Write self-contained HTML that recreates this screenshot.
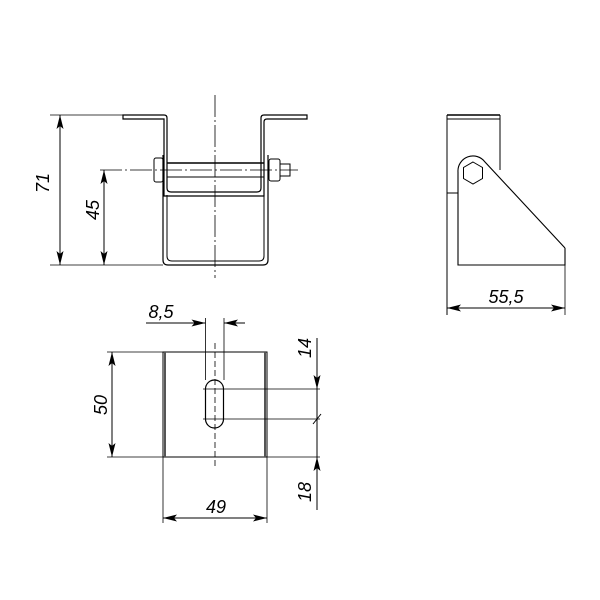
<!DOCTYPE html>
<html><head><style>body{margin:0;background:#fff}svg{display:block}</style></head><body>
<svg width="600" height="600" viewBox="0 0 600 600" xmlns="http://www.w3.org/2000/svg" font-family="Liberation Sans, sans-serif">
<defs>
<marker id="a" viewBox="0 0 14 7" refX="14" refY="3.5" markerWidth="14" markerHeight="7" orient="auto-start-reverse" markerUnits="userSpaceOnUse"><path d="M0,0 L14,3.5 L0,7 L3,3.5 Z" fill="#000"/></marker>
</defs>
<g stroke="#000" fill="none" stroke-width="1">
<!-- front view -->
<path d="M123,115 H164 Q167,115 167,118 V188 Q167,192 171,192 H257 Q261,192 261,188 V118 Q261,115 264,115 H307 V119 H267 Q264,119 264,122 V196 H164 V119 H123 Z" stroke-width="1.2"/>
<path d="M163,155 V260 Q163,265 168,265 H263 Q268,265 268,260 V155" stroke-width="1.2"/>
<path d="M167,195 V256 Q167,261 172,261 H259 Q264,261 264,256 V195"/>
<line x1="167" y1="163" x2="264" y2="163" stroke-width="1.5"/>
<line x1="167" y1="177" x2="264" y2="177"/>
<rect x="154" y="158" width="9" height="24" rx="2"/>
<rect x="269" y="159" width="11" height="22" rx="2"/>
<rect x="280" y="164" width="10" height="12"/>
<line x1="215" y1="95" x2="215" y2="278" stroke-width="0.8" stroke-dasharray="22,3,2,3"/>
<line x1="100" y1="170" x2="298" y2="170" stroke-width="0.8" stroke-dasharray="22,3,2,3"/>
<line x1="50" y1="115" x2="123" y2="115" stroke-width="0.8"/>
<line x1="50" y1="265" x2="163" y2="265" stroke-width="0.8"/>
<line x1="60" y1="115" x2="60" y2="265" marker-start="url(#a)" marker-end="url(#a)"/>
<line x1="104" y1="170" x2="104" y2="265" marker-start="url(#a)" marker-end="url(#a)"/>
<!-- side view -->
<line x1="447" y1="115" x2="500" y2="115" stroke-width="1.5"/>
<line x1="447" y1="119" x2="500" y2="119"/>
<path d="M447,115 V315 M500,115 V170 M447,193 H458"/>
<path d="M565,248 L485,162 A15,15 0 0 0 458,172 V265 H565 V248" stroke-width="1.1"/>
<polygon points="473,162 482.5,167.5 482.5,178.5 473,184 463.5,178.5 463.5,167.5"/>
<line x1="565" y1="248" x2="565" y2="315" stroke-width="0.8"/>
<line x1="447" y1="308" x2="565" y2="308" marker-start="url(#a)" marker-end="url(#a)"/>
<!-- bottom view -->
<rect x="163" y="352" width="104" height="105"/>
<line x1="165" y1="352" x2="165" y2="457" stroke-width="2" stroke="#555"/>
<line x1="265" y1="352" x2="265" y2="457" stroke-width="2" stroke="#555"/>
<rect x="205.5" y="380" width="18" height="48" rx="9" stroke-width="1.2"/>
<line x1="215" y1="343" x2="215" y2="466" stroke-width="0.8" stroke-dasharray="6,3"/>
<line x1="205.5" y1="318" x2="205.5" y2="380" stroke-width="0.8"/>
<line x1="224" y1="318" x2="224" y2="380" stroke-width="0.8"/>
<line x1="146" y1="323" x2="205.5" y2="323" marker-end="url(#a)"/>
<line x1="245" y1="323" x2="224" y2="323" marker-end="url(#a)"/>
<line x1="107" y1="352" x2="163" y2="352" stroke-width="0.8"/>
<line x1="107" y1="457" x2="163" y2="457" stroke-width="0.8"/>
<line x1="112" y1="352" x2="112" y2="457" marker-start="url(#a)" marker-end="url(#a)"/>
<line x1="203" y1="389" x2="320" y2="389" stroke-width="0.8"/>
<line x1="203" y1="419" x2="320" y2="419" stroke-width="0.8"/>
<line x1="267" y1="457" x2="320" y2="457" stroke-width="0.8"/>
<line x1="317" y1="338" x2="317" y2="389" marker-end="url(#a)"/>
<line x1="317" y1="389" x2="317" y2="457"/>
<line x1="317" y1="510" x2="317" y2="457" marker-end="url(#a)"/>
<line x1="313" y1="424" x2="321" y2="414"/>
<line x1="163" y1="457" x2="163" y2="523" stroke-width="0.8"/>
<line x1="267" y1="457" x2="267" y2="523" stroke-width="0.8"/>
<line x1="163" y1="518" x2="267" y2="518" marker-start="url(#a)" marker-end="url(#a)"/>
</g>
<g font-size="18" font-style="italic" fill="#000" text-anchor="middle">
<text transform="translate(49,183) rotate(-90)">71</text>
<text transform="translate(99,210) rotate(-90)">45</text>
<text x="506" y="303">55,5</text>
<text x="161" y="318">8,5</text>
<text transform="translate(107,405) rotate(-90)">50</text>
<text transform="translate(311,348) rotate(-90)">14</text>
<text transform="translate(311,492) rotate(-90)">18</text>
<text x="216" y="513">49</text>
</g>
</svg>
</body></html>
